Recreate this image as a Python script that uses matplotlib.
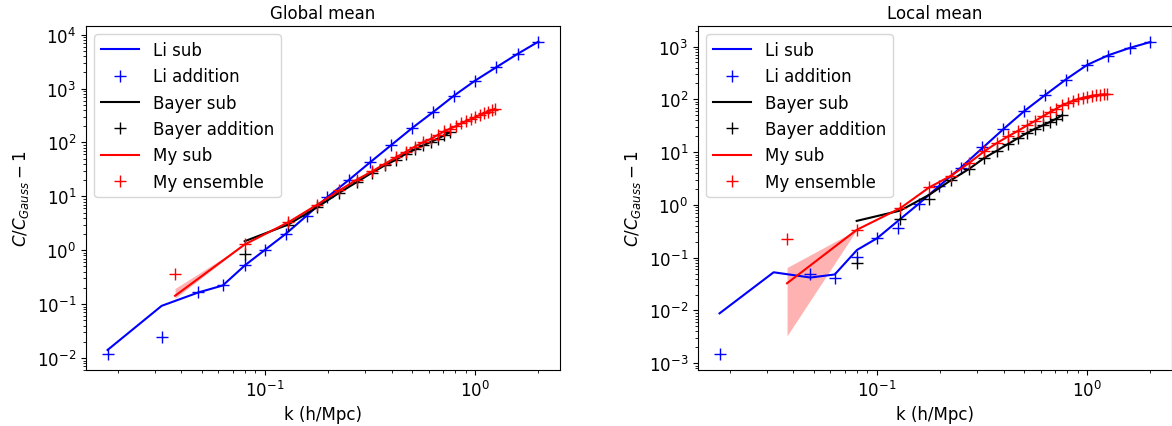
import numpy as np
import matplotlib
matplotlib.use("Agg")
import matplotlib.pyplot as plt

nan = np.nan

# k values
k_li = [0.0178, 0.0322, 0.0482, 0.0629, 0.0803, 0.100, 0.126, 0.158, 0.198, 0.252,
        0.317, 0.398, 0.502, 0.633, 0.794, 1.00, 1.26, 1.59, 2.00]
k_my = [0.0373, 0.080, 0.129, 0.177, 0.226, 0.274, 0.323, 0.371, 0.420, 0.468,
        0.517, 0.565, 0.614, 0.662, 0.711, 0.759, 0.808, 0.856, 0.905, 0.953,
        1.002, 1.050, 1.099, 1.147, 1.196, 1.244]
k_bayer = [0.080, 0.129, 0.177, 0.226, 0.274, 0.323, 0.371, 0.420, 0.468,
           0.517, 0.565, 0.614, 0.662, 0.711, 0.759]
k_band = [0.0373, 0.080]

# Global mean panel
g_li_sub = [0.0141, 0.093, 0.165, 0.222, 0.527, 1.02, 2.04, 4.4, 9.7, 20.5,
            43.2, 89, 186, 370, 741, 1406, 2485, 4390, 7420]
g_li_add = [0.0117, 0.025, 0.165, 0.222, 0.527, 1.02, 2.04, 4.4, 9.7, 20.5,
            43.2, 89, 186, 370, 741, 1406, 2485, 4390, 7420]
g_bayer_sub = [1.47, 3.0, 6.3, 11.7, 18.5, 27.5, 37.5, 47.8, 61.7, 74, 88, 102, 117, 135, 155]
g_bayer_add = [0.87, 3.0, 6.3, 11.7, 18.5, 27.5, 37.5, 47.8, 61.7, 74, 88, 102, 117, 135, 155]
g_my_sub = [0.143, 1.28, 3.3, 7.0, 12.9, 20.5, 29, 40, 53, 67, 84, 101, 116, 137,
            160, 180, 200, 225, 250, 270, 295, 322, 348, 372, 395, 421]
g_my_ens = [0.37, 1.28, 3.3, 7.0, 12.9, 20.5, 29, 40, 53, 67, 84, 101, 116, 137,
            160, 180, 200, 225, 250, 270, 295, 322, 348, 372, 395, 421]
g_band_lo = [0.128, 1.28]
g_band_hi = [0.195, 1.28]

# Local mean panel
l_li_sub = [0.0088, 0.0528, 0.042, 0.048, 0.14, 0.233, 0.50, 1.05, 2.3, 5.2,
            11.9, 27, 60, 122, 240, 450, 684, 940, 1222]
l_li_add = [0.00147, nan, 0.048, 0.0406, 0.105, 0.24, 0.37, 1.03, 2.23, 5.1,
            12.3, 27.7, 59, 119, 235, 445, 670, 920, 1240]
l_bayer_sub = [0.497, 0.78, 1.55, 2.98, 4.8, 7.7, 10.6, 14.2, 18.4, 23, 27.7, 32, 37, 42.8, 49.7]
l_bayer_add = [0.08, 0.55, 1.3, 2.98, 4.8, 7.7, 10.6, 14.2, 18.4, 23, 27.7, 32, 37, 42.8, 49.7]
l_my_sub = [0.0327, 0.336, 0.865, 2.14, 3.6, 6.2, 10.3, 14.8, 19.8, 25.3, 32, 39, 47.5,
            56.6, 66, 77, 85, 94, 101, 107, 112, 117, 120, 122, 124, 124]
l_my_ens = [0.226, 0.336, 0.865, 2.14, 3.6, 6.2, 10.3, 14.8, 19.8, 25.3, 32, 39, 47.5,
            56.6, 66, 77, 85, 94, 101, 107, 112, 117, 120, 122, 124, 124]
l_band_lo = [0.0033, 0.336]
l_band_hi = [0.065, 0.336]

titles = ["Global mean", "Local mean"]

plt.rcParams['font.size'] = 12

fig = plt.figure(figsize=(11.72, 4.27), dpi=100)
ax1 = fig.add_axes([86 / 1172, 1 - 371 / 427, 474 / 1172, 344 / 427])
ax2 = fig.add_axes([698 / 1172, 1 - 371 / 427, 474 / 1172, 344 / 427])

panels = [
    (ax1, g_li_sub, g_li_add, g_bayer_sub, g_bayer_add, g_my_sub, g_my_ens, g_band_lo, g_band_hi),
    (ax2, l_li_sub, l_li_add, l_bayer_sub, l_bayer_add, l_my_sub, l_my_ens, l_band_lo, l_band_hi),
]

ms = 9
for (ax, li_sub, li_add, b_sub, b_add, m_sub, m_ens, blo, bhi), title in zip(panels, titles):
    ax.plot(k_li, li_sub, 'b-', label='Li sub')
    ax.plot(k_li, li_add, 'b+', ms=ms, label='Li addition')
    ax.plot(k_bayer, b_sub, 'k-', label='Bayer sub')
    ax.plot(k_bayer, b_add, 'k+', ms=ms, label='Bayer addition')
    ax.plot(k_my, m_sub, 'r-', label='My sub')
    ax.plot(k_my, m_ens, 'r+', ms=ms, label='My ensemble')
    ax.fill_between(k_band, blo, bhi, color='red', alpha=0.3, linewidth=0)
    ax.set_xscale('log')
    ax.set_yscale('log')
    ax.set_xlabel('k (h/Mpc)')
    ax.set_ylabel(r'$C/C_{Gauss}-1$')
    ax.set_title(title, fontsize=12)
    ax.legend(loc='upper left', handlelength=2.3)

fig.savefig('out.png', dpi=100)
